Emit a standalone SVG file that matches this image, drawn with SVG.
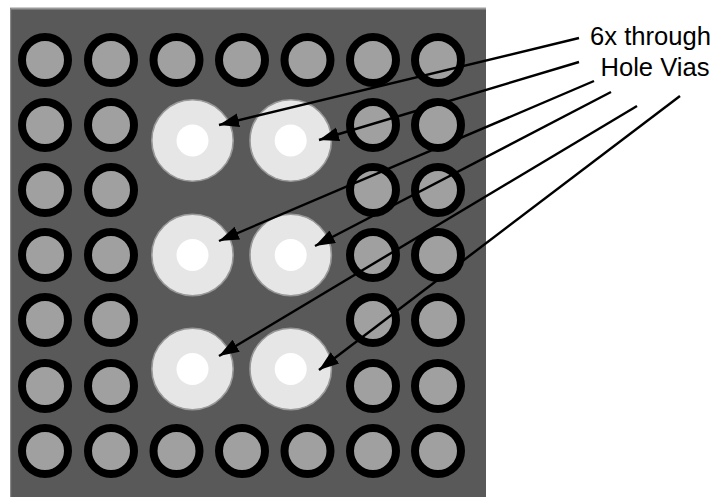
<svg xmlns="http://www.w3.org/2000/svg" width="716" height="497" viewBox="0 0 716 497">
<style>
.v{fill:#a0a0a0;stroke:#000;stroke-width:8}
.h{fill:#e6e6e6;stroke:#999;stroke-width:1.6}
.c{fill:#fff}
.l{stroke:#000;stroke-width:2.4;fill:none;marker-end:url(#a)}
text{font-family:"Liberation Sans",Arial,sans-serif;font-size:25.6px;fill:#000;text-anchor:middle}
</style>
<defs>
<marker id="a" markerUnits="userSpaceOnUse" markerWidth="24" markerHeight="16" refX="20" refY="7" orient="auto"><path d="M0 0L20 7L0 14z" fill="#000"/></marker>
<circle id="r" class="v" r="23"/>
<g id="b"><circle class="h" r="40.7"/><circle class="c" r="16"/></g>
</defs>
<rect x="10" y="8" width="476" height="489" fill="#595959"/>
<rect x="10" y="7.5" width="476" height="2" fill="#999"/>
<rect x="10" y="8" width="1.2" height="489" fill="#888"/>
<g id="pads">
<use href="#r" x="45" y="60"/><use href="#r" x="111" y="60"/><use href="#r" x="176.5" y="60"/><use href="#r" x="242" y="60"/><use href="#r" x="307.5" y="60"/><use href="#r" x="373" y="60"/><use href="#r" x="438" y="60"/>
<use href="#r" x="45" y="125"/><use href="#r" x="111" y="125"/><use href="#r" x="373" y="125"/><use href="#r" x="438" y="125"/>
<use href="#r" x="45" y="190"/><use href="#r" x="111" y="190"/><use href="#r" x="373" y="190"/><use href="#r" x="438" y="190"/>
<use href="#r" x="45" y="255"/><use href="#r" x="111" y="255"/><use href="#r" x="373" y="255"/><use href="#r" x="438" y="255"/>
<use href="#r" x="45" y="320"/><use href="#r" x="111" y="320"/><use href="#r" x="373" y="320"/><use href="#r" x="438" y="320"/>
<use href="#r" x="45" y="386"/><use href="#r" x="111" y="386"/><use href="#r" x="373" y="386"/><use href="#r" x="438" y="386"/>
<use href="#r" x="45" y="451"/><use href="#r" x="111" y="451"/><use href="#r" x="176.5" y="451"/><use href="#r" x="242" y="451"/><use href="#r" x="307.5" y="451"/><use href="#r" x="373" y="451"/><use href="#r" x="438" y="451"/>
</g>
<g id="via1"><use href="#b" x="192.5" y="140.5"/></g>
<g id="via2"><use href="#b" x="290.7" y="140.5"/></g>
<g id="via3"><use href="#b" x="192.5" y="255"/></g>
<g id="via4"><use href="#b" x="290.7" y="255"/></g>
<g id="via5"><use href="#b" x="192.5" y="369"/></g>
<g id="via6"><use href="#b" x="290.7" y="369"/></g>
<g id="connectors">
<path class="l" d="M579 38L219 125"/>
<path class="l" d="M579 62L319 140"/>
<path class="l" d="M594 81L219 241"/>
<path class="l" d="M611 92L315 246"/>
<path class="l" d="M637 106L219 356"/>
<path class="l" d="M680 96L319 370"/>
</g>
<g id="label"><text x="650.5" y="45">6x through</text><text x="655" y="76">Hole Vias</text></g>
</svg>
